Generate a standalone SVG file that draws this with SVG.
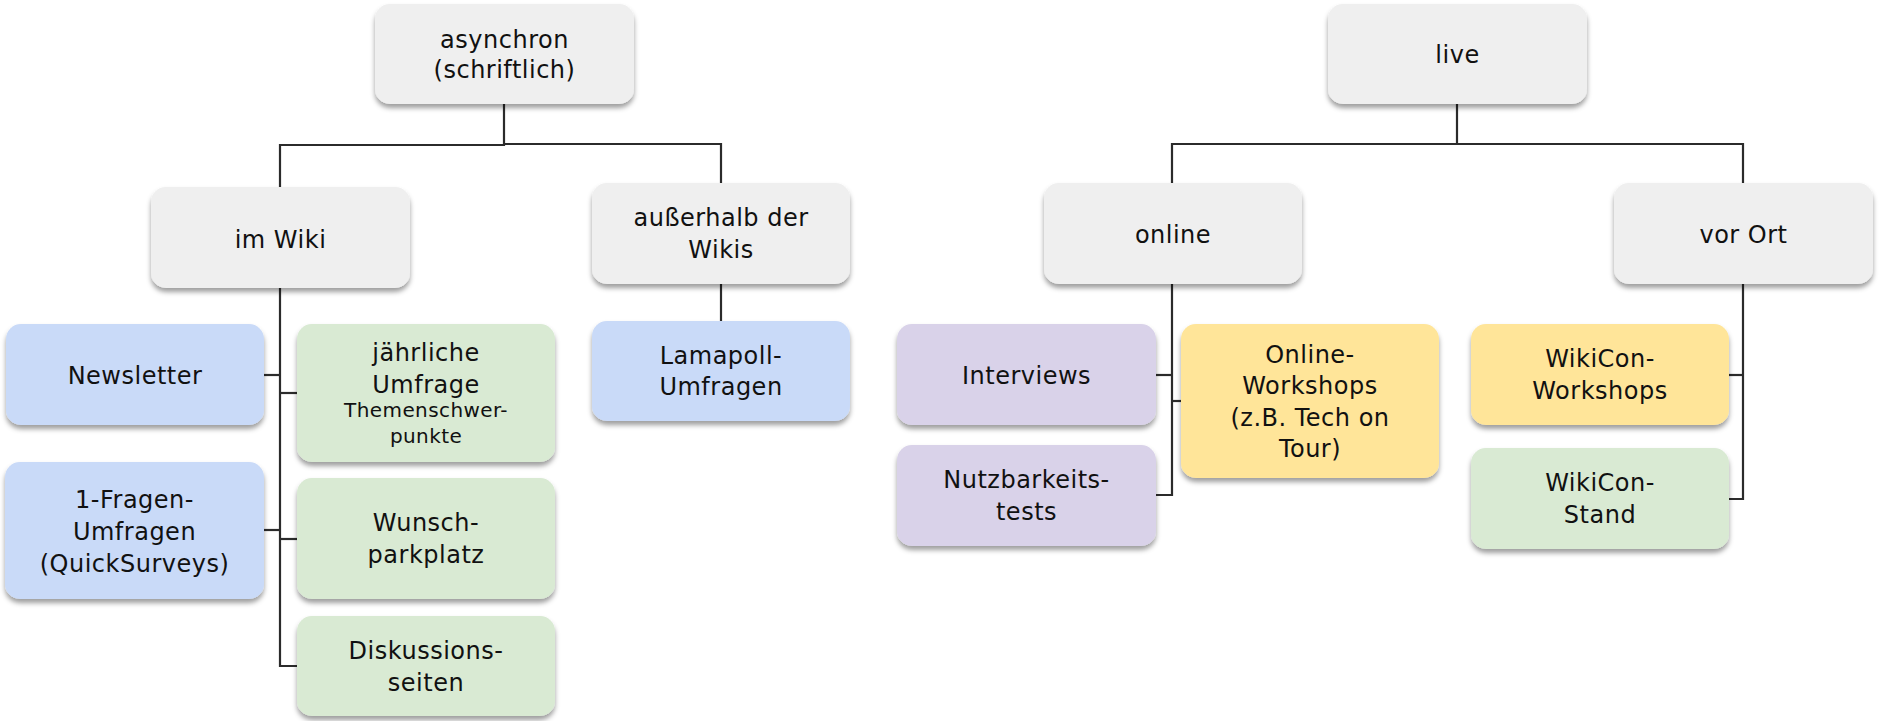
<svg xmlns="http://www.w3.org/2000/svg" width="1879" height="721" viewBox="0 0 1879 721">
<defs>
<filter id="sh" x="-10%" y="-10%" width="120%" height="135%">
<feDropShadow dx="0" dy="4" stdDeviation="2.8" flood-color="#000" flood-opacity="0.38"/>
</filter>
</defs>
<style>
rect{filter:url(#sh)}
.g{fill:#efefef}.b{fill:#c9daf8}.gr{fill:#d9ead3}.p{fill:#d9d2e9}.y{fill:#ffe599}
text{font-family:"DejaVu Sans","Liberation Sans",sans-serif;font-size:24px;fill:#111;text-anchor:middle;letter-spacing:0.5px}
.s{font-size:20px;letter-spacing:0.4px}
.c path{fill:none;stroke:#2b2b2b;stroke-width:2.2}
</style>
<rect width="1879" height="721" fill="#fff" style="filter:none"/>
<g class="c" id="connectors">
<path d="M504,104 V145 H280 V187"/>
<path d="M504,144 H721 V183"/>
<path d="M721,284 V321"/>
<path d="M280,288 V666 H297"/>
<path d="M264,375 H280"/>
<path d="M280,393 H297"/>
<path d="M264,530 H280"/>
<path d="M280,539 H297"/>
<path d="M1457,104 V144 H1172 V183"/>
<path d="M1457,144 H1743 V183"/>
<path d="M1172,284 V495 H1156"/>
<path d="M1156,375 H1172"/>
<path d="M1172,401 H1181"/>
<path d="M1743,284 V499 H1729"/>
<path d="M1729,375 H1743"/>
</g>
<g id="asynchron"><rect class="g" x="375" y="4" width="259" height="100" rx="15"/><text x="504.5" y="47.5">asynchron</text><text x="504.5" y="78">(schriftlich)</text></g>
<g id="imwiki"><rect class="g" x="151" y="187" width="259" height="101" rx="15"/><text x="280.5" y="247.5">im Wiki</text></g>
<g id="ausserhalb"><rect class="g" x="592" y="183" width="258" height="101" rx="15"/><text x="721" y="226">außerhalb der</text><text x="721" y="257.5">Wikis</text></g>
<g id="lamapoll"><rect class="b" x="592" y="321" width="258" height="100" rx="15"/><text x="721" y="363.5">Lamapoll-</text><text x="721" y="395">Umfragen</text></g>
<g id="newsletter"><rect class="b" x="6" y="324" width="258" height="101" rx="15"/><text x="135" y="383.5">Newsletter</text></g>
<g id="jaehrliche"><rect class="gr" x="297" y="324" width="258" height="138" rx="15"/><text x="426" y="360.5">jährliche</text><text x="426" y="392.5">Umfrage</text><text class="s" x="426" y="417">Themenschwer-</text><text class="s" x="426" y="443">punkte</text></g>
<g id="einfragen"><rect class="b" x="5" y="462" width="259" height="137" rx="15"/><text x="134.5" y="508">1-Fragen-</text><text x="134.5" y="540">Umfragen</text><text x="134.5" y="571.5">(QuickSurveys)</text></g>
<g id="wunsch"><rect class="gr" x="297" y="478" width="258" height="121" rx="15"/><text x="426" y="531">Wunsch-</text><text x="426" y="563">parkplatz</text></g>
<g id="diskussion"><rect class="gr" x="297" y="616" width="258" height="100" rx="15"/><text x="426" y="658.5">Diskussions-</text><text x="426" y="690.5">seiten</text></g>
<g id="live"><rect class="g" x="1328" y="4" width="259" height="100" rx="15"/><text x="1457.5" y="63">live</text></g>
<g id="online"><rect class="g" x="1044" y="183" width="258" height="101" rx="15"/><text x="1173" y="243">online</text></g>
<g id="vorort"><rect class="g" x="1614" y="183" width="259" height="101" rx="15"/><text x="1743.5" y="243">vor Ort</text></g>
<g id="interviews"><rect class="p" x="897" y="324" width="259" height="101" rx="15"/><text x="1026.5" y="383.5">Interviews</text></g>
<g id="nutzbarkeit"><rect class="p" x="897" y="445" width="259" height="101" rx="15"/><text x="1026.5" y="488">Nutzbarkeits-</text><text x="1026.5" y="519.5">tests</text></g>
<g id="onlineworkshops"><rect class="y" x="1181" y="324" width="258" height="154" rx="15"/><text x="1310" y="362.5">Online-</text><text x="1310" y="394">Workshops</text><text x="1310" y="425.5">(z.B. Tech on</text><text x="1310" y="456.5">Tour)</text></g>
<g id="wikiconworkshops"><rect class="y" x="1471" y="324" width="258" height="101" rx="15"/><text x="1600" y="367">WikiCon-</text><text x="1600" y="398.5">Workshops</text></g>
<g id="wikiconstand"><rect class="gr" x="1471" y="448" width="258" height="101" rx="15"/><text x="1600" y="491">WikiCon-</text><text x="1600" y="522.5">Stand</text></g>
</svg>
